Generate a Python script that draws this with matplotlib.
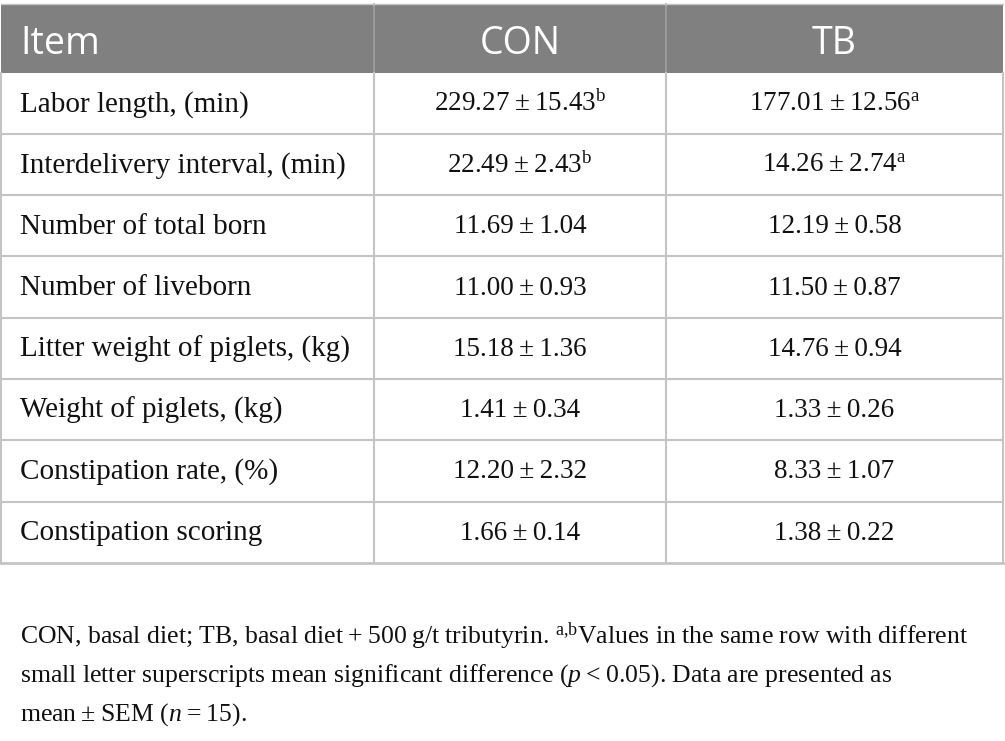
import matplotlib
matplotlib.use('Agg')
import matplotlib.pyplot as plt
from matplotlib.patches import Rectangle

# Table contents
items = ['Labor length, (min)', 'Interdelivery interval, (min)', 'Number of total born',
         'Number of liveborn', 'Litter weight of piglets, (kg)', 'Weight of piglets, (kg)',
         'Constipation rate, (%)', 'Constipation scoring']
con_mean = ['229.27', '22.49', '11.69', '11.00', '15.18', '1.41', '12.20', '1.66']
con_sem = ['15.43', '2.43', '1.04', '0.93', '1.36', '0.34', '2.32', '0.14']
con_sup = ['b', 'b', '', '', '', '', '', '']
tb_mean = ['177.01', '14.26', '12.19', '11.50', '14.76', '1.33', '8.33', '1.38']
tb_sem = ['12.56', '2.74', '0.58', '0.87', '0.94', '0.26', '1.07', '0.22']
tb_sup = ['a', 'a', '', '', '', '', '', '']
headers = ['Item', 'CON', 'TB']

plt.rcParams['mathtext.fontset'] = 'custom'
plt.rcParams['mathtext.rm'] = 'Liberation Serif'
plt.rcParams['mathtext.it'] = 'Liberation Serif:italic'

SERIF = 'Liberation Serif'
SANS = 'Open Sans'
HEAD_BG = '#808080'
LINE = '#c4c4c4'
TXT = '#111111'
TS = '\u2009'  # thin space around the plus-minus sign

W, H = 1005, 741
TOP = 4
HEAD_BOT = 72.5
ROW_H = 61.3
COL_X = [1, 374, 666, 1003]

fig = plt.figure(figsize=(W / 100, H / 100), dpi=100)
ax = fig.add_axes([0, 0, 1, 1])
ax.set_xlim(0, W)
ax.set_ylim(H, 0)
ax.axis('off')

# header band
ax.add_patch(Rectangle((COL_X[0], TOP), COL_X[-1] - COL_X[0], HEAD_BOT - TOP,
                       facecolor=HEAD_BG, edgecolor='none'))
ymid = (TOP + HEAD_BOT) / 2 + 6
ax.text(20, ymid, headers[0], color='white', fontsize=27, family=SANS, ha='left', va='center')
for j in (1, 2):
    ax.text((COL_X[j] + COL_X[j + 1]) / 2, ymid, headers[j], color='white', fontsize=27,
            family=SANS, ha='center', va='center')
ax.plot([COL_X[1], COL_X[1]], [TOP, HEAD_BOT], color='#a0a0a0', lw=1.2)
ax.plot([COL_X[2], COL_X[2]], [TOP, HEAD_BOT], color='#a0a0a0', lw=1.2)

n = len(items)
bottom = HEAD_BOT + n * ROW_H


def cell(m, s, sup):
    txt = m + TS + '±' + TS + s
    if sup:
        txt += r'$^{\mathrm{%s}}$' % sup
    return txt


FS = 21
FS_VAL = 19.5
for i in range(n):
    yc = HEAD_BOT + (i + 0.5) * ROW_H + 1
    ax.text(20, yc, items[i], fontsize=FS, family=SERIF, ha='left', va='center', color=TXT)
    ax.text((COL_X[1] + COL_X[2]) / 2, yc, cell(con_mean[i], con_sem[i], con_sup[i]),
            fontsize=FS_VAL, family=SERIF, ha='center', va='center', color=TXT)
    ax.text((COL_X[2] + COL_X[3]) / 2, yc, cell(tb_mean[i], tb_sem[i], tb_sup[i]),
            fontsize=FS_VAL, family=SERIF, ha='center', va='center', color=TXT)
    if i > 0:
        y = HEAD_BOT + i * ROW_H
        ax.plot([COL_X[0], COL_X[-1]], [y, y], color=LINE, lw=1.5)

# vertical lines and outer border of body
for x in COL_X:
    ax.plot([x, x], [HEAD_BOT, bottom], color=LINE, lw=1.5)
ax.plot([COL_X[0], COL_X[-1]], [bottom, bottom], color=LINE, lw=2)
ax.plot([COL_X[0], COL_X[-1]], [TOP, TOP], color=LINE, lw=1)

# footnote
foot = ['CON, basal diet; TB, basal diet' + TS + '+' + TS + '500' + TS + 'g/t tributyrin. '
        '$^{\\mathrm{a{,}b}}$Values in the same row with different',
        'small letter superscripts mean significant difference ($\\mathit{p}$' + TS + '<' + TS
        + '0.05). Data are presented as',
        'mean' + TS + '±' + TS + 'SEM ($\\mathit{n}$' + TS + '=' + TS + '15).']
for k, line in enumerate(foot):
    ax.text(20, 636 + k * 39.5, line, fontsize=18.5, family=SERIF, ha='left', va='center', color=TXT)

fig.savefig('out.png', dpi=100)
